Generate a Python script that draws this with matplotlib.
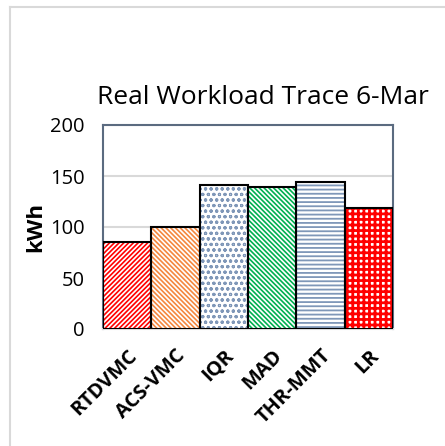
import matplotlib
matplotlib.use("Agg")
import matplotlib.pyplot as plt
from matplotlib.lines import Line2D

categories = ["RTDVMC", "ACS-VMC", "IQR", "MAD", "THR-MMT", "LR"]
values = [85, 100, 141, 139, 144, 119]
hatch_colors = ["#FF0000", "#F4873F", "#7F97B8", "#00B050", "#7F97B8", "#FF0000"]
hatches = ["/" * 7, "\\" * 7, "ooo", "\\" * 7, "----", "+++"]
hatch_lws = [1.2, 1.2, 0.8, 1.2, 1.3, 2.0]
yticks = [0, 50, 100, 150, 200]
title = "Real Workload Trace 6-Mar"
ylabel = "kWh"

plt.rcParams['font.family'] = ['Open Sans', 'DejaVu Sans']

W, H = 445, 446
fig = plt.figure(figsize=(W / 100, H / 100), dpi=100)
ax = fig.add_axes([103 / W, 1 - 329 / H, 290 / W, 204 / H])

x = list(range(len(categories)))
for xi, v, hc, ht, hl in zip(x, values, hatch_colors, hatches, hatch_lws):
    plt.rcParams['hatch.linewidth'] = hl
    bars = ax.bar(xi, v, width=1.0, color="white", edgecolor=hc, hatch=ht, linewidth=0, zorder=2)
    for b in bars:
        if hasattr(b, "set_hatch_linewidth"):
            b.set_hatch_linewidth(hl)
ax.bar(x, values, width=1.0, fill=False, edgecolor="black", linewidth=1.5, zorder=3)

ax.set_xlim(-0.5, len(categories) - 0.5)
ax.set_ylim(0, 200)
ax.set_yticks(yticks)
ax.set_yticklabels([str(t) for t in yticks], fontsize=14.5)
ax.set_xticks(x)
ax.set_xticklabels(categories, rotation=45, ha="right", va="top",
                   rotation_mode="anchor", fontsize=14.5, fontweight="bold")
ax.tick_params(axis="both", length=0)
ax.tick_params(axis="y", pad=13)
ax.tick_params(axis="x", pad=12)
ax.grid(axis="y", color="#D9D9D9", linewidth=1.5, zorder=0)
ax.set_axisbelow(True)
for s in ["top", "left", "right"]:
    ax.spines[s].set_color("#5B6B80")
    ax.spines[s].set_linewidth(1.5)
ax.spines["bottom"].set_color("#D9D9D9")
ax.spines["bottom"].set_linewidth(1.5)

ax.set_ylabel(ylabel, fontsize=16, fontweight="bold", labelpad=3)

fig.text(263 / W, 1 - 97 / H, title, ha="center", va="center", fontsize=19)

fig.add_artist(Line2D([10 / W, 10 / W], [0, 1 - 7 / H], color="#D9D9D9", linewidth=1.5,
                      transform=fig.transFigure))
fig.add_artist(Line2D([10 / W, 1], [1 - 7 / H, 1 - 7 / H], color="#D9D9D9", linewidth=1.5,
                      transform=fig.transFigure))

fig.savefig("out.png", dpi=100)
